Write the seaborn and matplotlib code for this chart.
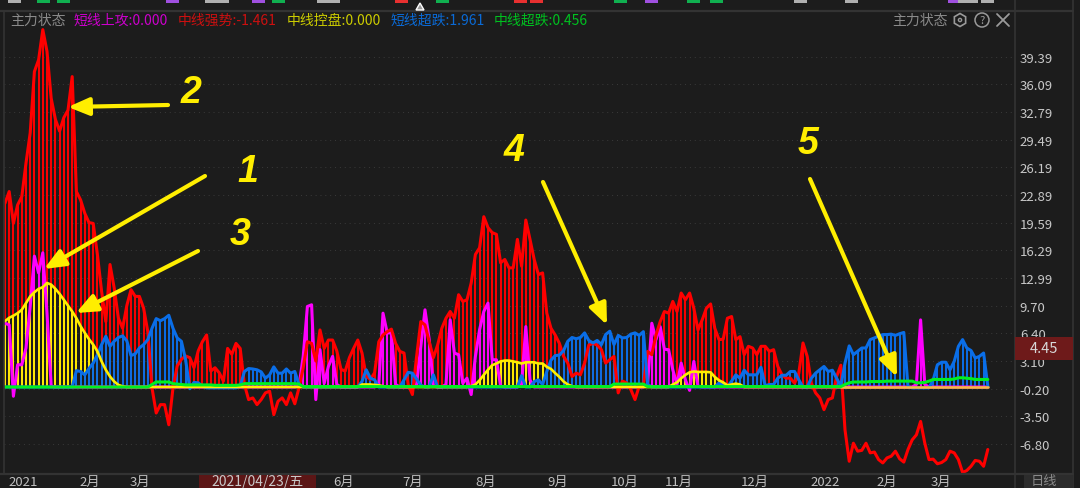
import numpy as np
import seaborn as sns
import matplotlib.pyplot as plt
from matplotlib.patches import Rectangle, Polygon, Circle, FancyArrowPatch
from matplotlib.lines import Line2D
from matplotlib.transforms import Affine2D

# one list per indicator, one value per trading day
short_attack = ([7.6, 7.4, -1.1, 2.65, 2.65, 4.65, 9.6, 15.6, 13.6, 16.0, 8.8, 0.1] + [0] * 58
                + [0.1, 3.65, 9.6, 9.8, -1.5, 4.45, 0.45, 2.45, 3.65, 0.3] + [0] * 9
                + [0.3, 8.8, 6.45, 6.45, 0.3] + [0] * 4
                + [0.3, 4.85, 9.2, 5.65, 0.1] + [0] * 2
                + [0.3, 8.0, 4.05, 3.85, 0.45, 1.05, -0.9, 3.65, 6.85, 9.0, 10.0, 3.25, 3.25, 0.1] + [0] * 4
                + [0.3, 7.2, 0.85] + [0] * 27
                + [0.3, 7.6, 5.65, 7.2, 4.5, 4.45, 2.05, 0.3, 2.85, 0.85, -0.4, 3.05, 0.1] + [0] * 51
                + [0.3, 8.0, 0.3] + [0] * 15)

mid_strong = [21.9, 23.3, 19.5, 21.7, 22.7, 26.7, 30.3, 37.6, 39.0, 42.6, 40.0, 34.4, 31.9, 30.5, 32.1, 33.0,
              37.0, 23.3, 22.3, 20.7, 19.6, 19.5, 15.8, 11.4, 7.8, 14.6, 11.8, 8.2, 7.0, 9.7, 11.6, 10.8,
              10.8, 9.4, 6.6, -0.1, -3.1, -2.1, -2.1, -4.5, -0.1, 2.5, 3.3, 3.7, 3.5, 2.3, 4.3, 5.4,
              6.2, 1.9, 2.3, 1.7, 0.7, 4.6, 3.9, 5.2, 4.6, 0.3, -1.5, -1.3, -2.1, -1.5, -0.7, -0.5,
              -3.3, -1.7, -1.3, -2.1, -0.7, -2.0, -0.1, 2.3, 5.4, 5.2, 3.1, 6.8, 4.6, 5.6, 5.6, 4.3,
              2.1, 1.9, 3.5, 4.6, 5.6,
              4.05, 1.3, 0.9, 1.7, 5.4, 6.2, 6.6, 6.9, 5.2, 4.25, 4.05, 0.3, -0.9, 3.65, 7.8, 7.4,
              5.4, 3.5, 5.0, 7.0, 8.2, 9.0, 8.2, 11.0, 10.2, 10.4,
              12.4, 15.8, 16.6, 20.3, 19.0, 18.4, 18.2, 14.8, 15.2, 14.2, 14.2, 17.6, 14.4, 19.9, 17.6, 15.2,
              13.4, 13.6, 8.8, 7.0, 6.2, 5.2, 3.65, 2.85, 1.25, 1.65, 1.45, 2.85, 5.0, 5.2, 5.0, 4.45,
              2.85, 3.25, 3.65, -0.7, 0.7, 0.5, -0.3, -1.5, 0.1, 0.1,
              4.25, 3.85, 6.2, 7.8, 9.0, 8.8, 10.2, 9.0, 11.2, 10.4, 11.2, 9.4, 6.8, 8.0, 9.4, 9.9,
              7.0, 5.65, 5.7, 8.2, 8.4, 5.65, 6.0, 3.85, 4.85, 4.65, 3.85, 4.85, 4.85, 4.25, 4.45, 2.45,
              1.45, 1.05, 1.05, 0.45, 1.65, 5.25, 3.65, 0.45, -0.7, -1.3,
              -2.7, -1.5, -1.3, 1.25, 2.6, -5.1, -8.85, -6.7, -7.65, -7.55, -6.7, -7.85, -7.75, -8.65, -9.05, -8.45,
              -8.25, -7.65, -8.55, -8.95, -7.45, -6.3, -5.7, -4.1, -6.7, -8.65, -8.6, -9.15, -9.0, -8.65, -7.65, -7.85,
              -8.65, -10.2, -9.95, -9.45, -8.75, -8.85, -9.45, -7.45]

mid_control = ([7.85, 8.25, 8.5, 8.8, 9.2, 10.0, 10.8, 11.3, 11.7, 11.9, 12.4, 12.2, 11.7, 11.1, 10.4, 9.7,
                9.0, 8.2, 7.25, 6.45, 5.7, 5.05, 4.25, 3.05, 2.05, 1.25, 0.65, 0.25, 0.08] + [0] * 56
               + [0.3, 0.3, 0.3, 0.25, 0.2, 0.1] + [0] * 20
               + [0.08, 0.3, 0.8, 1.45, 2.05, 2.6, 2.8, 3.05, 3.15, 3.15, 3.05, 2.95, 2.8, 2.95, 2.95, 2.95,
                  2.8, 2.8, 2.4, 2.15, 1.65, 1.2, 0.65, 0.3, 0.1] + [0] * 23
               + [0.3, 0.55, 1.05, 1.45, 1.75, 1.85, 1.8, 1.8, 1.8, 1.75, 1.2, 0.8, 0.55, 0.2, 0.3, 0.4, 0.3]
               + [0] * 59)

short_oversold = ([0] * 17
                  + [1.95, 1.85, 1.45, 2.2, 2.85, 3.85, 5.05, 6.05, 4.85, 5.45, 5.9, 6.1, 5.5, 3.75, 3.95, 4.65,
                     5.05, 5.65, 7.0, 8.15, 7.9, 8.15, 8.55, 7.0, 5.85, 5.45, 3.25, -0.2, 0.55, 0.5, 0.1]
                  + [-0.1] * 8
                  + [0.1, 1.85, 2.2, 2.15, 2.05, 1.8, 1.05, 1.45, 2.4, 1.65, 1.65, 2.15, 1.65, 1.85, 0.3] + [0] * 14
                  + [0.65, 2.05, 1.05, 0.85] + [0] * 6
                  + [0.85, 1.75, 1.65, 0.95, 0.2] + [0] * 2
                  + [1.45] + [0] * 20
                  + [1.35] + [0] * 2
                  + [0.65, 0.85, 0.3, 1.85, 3.2, 3.75, 3.8, 4.35, 5.45, 5.9, 5.75, 5.9, 6.45, 5.55, 5.25, 5.55,
                     5.05, 6.25, 6.65, 5.05, 6.15, 5.85, 5.9, 6.3, 6.45, 6.15, 6.6, 0.3] + [0] * 16
                  + [0.5, 0.15, 0, 0.7, 1.45, 1.05, 2.0, 1.45, 1.45, 1.45, 2.35, 0.15, 0.3, 0.3, 1.05, 1.4, 1.4,
                     1.85, 1.85, 0.85, 0, 0, 1.05, 1.65,
                     2.05, 2.45, 1.85, 2.0, 1.05, 0.1, 2.85, 4.9, 3.85, 4.25, 4.65, 4.65, 5.65, 5.85, 6.05, 6.25,
                     6.25, 6.3, 6.15, 6.35, 6.5, 0]
                  + [-0.1] * 5
                  + [0.85, 2.65, 2.95, 2.95, 2.05, 3.05, 4.85, 5.65, 4.65, 4.35, 3.45, 3.65, 4.05, 0.1])

mid_oversold = ([0] * 35 + [0.3, 0.6, 0.6, 0.6, 0.6, 0.4, 0.35, 0.3] + [0.25] * 7 + [0.2] * 6 + [0.25]
                + [0.4] * 13 + [0.35] + [0.05] * 74 + [0.35] * 8 + [0.05] * 47
                + [0.3, 0.5] + [0.6] * 4 + [0.65] * 4 + [0.7] * 7 + [0.5, 0.5, 0.55, 0.7] + [0.9] * 5
                + [0.95, 1.1, 1.1, 1.05, 1.0] + [0.9] * 4)

y_ticks = [39.39, 36.09, 32.79, 29.49, 26.19, 22.89, 19.59, 16.29, 12.99, 9.70, 6.40, 3.10, -0.20, -3.50, -6.80]
month_days = [4.3, 20.2, 32.1, 80.7, 97.1, 114.5, 131.7, 147.6, 160.5, 178.6, 195.2, 210, 222.9]
month_labels = ['2021', '2月', '3月', '6月', '7月', '8月', '9月', '10月', '11月', '12月', '2022', '2月', '3月']

legend_items = [('主力状态', 10, '#8a8a8a'), ('短线上攻:0.000', 73, '#cc00cc'), ('中线强势:-1.461', 178, '#cc1010'),
                ('中线控盘:0.000', 287, '#cccc00'), ('短线超跌:1.961', 390, '#0a6ad6'), ('中线超跌:0.456', 494, '#00c020')]

# top strip of cut off signal badges: centre, width, colour
badge_x = [14, 43, 63, 172, 217, 258, 278, 328, 401, 442, 520, 536, 620, 651, 693, 716, 800, 851, 954, 968, 987]
badge_w = [13, 13, 13, 13, 24, 13, 13, 23, 13, 13, 13, 13, 13, 13, 13, 13, 13, 13, 13, 20, 13]
badge_c = ['#b0b0b0', '#10b050', '#10b050', '#a050e0', '#b0b0b0', '#a050e0', '#10b050', '#b0b0b0', '#e83030', '#10b050',
           '#e83030', '#e83030', '#10b050', '#a050e0', '#10b050', '#10b050', '#b0b0b0', '#b0b0b0', '#a050e0', '#b0b0b0',
           '#b0b0b0']

BG = '#1c1c1c'
RED = '#ff0000'
MAGENTA = '#ff00ff'
YELLOW = '#ffee00'
BLUE = '#0a6ee8'
GREEN = '#00f020'
ARROW = '#ffee00'
W, H = 1080, 489

sns.set_theme(style='dark', rc={'axes.facecolor': BG, 'figure.facecolor': BG})
plt.rcParams['font.family'] = ['Noto Sans CJK SC', 'DejaVu Sans']

days = np.arange(len(mid_strong))
fig = plt.figure(figsize=(W / 100, H / 100), dpi=100)
# axes box in pixels: x 4..1015, y 13..474
ax = fig.add_axes([4 / W, 1 - 474 / H, (1015 - 4) / W, (474 - 13) / H])
ax.set_xlim((4 - 5) / 4.2, (1015 - 5) / 4.2)
ax.set_ylim(-10.25, 44.7)

# pixel coordinates with the origin at the top left, for the screenshot furniture
px = Affine2D().scale(1, -1).translate(0, H)


def bars(values, color, z):
    ax.vlines(days, 0, np.clip(np.array(values, dtype=float), 0, None), color=color, lw=1.4, zorder=z)


def line(x, values, color, z, width=2.2):
    sns.lineplot(x=x, y=values, color=color, linewidth=width, estimator=None, sort=False,
                 legend=False, ax=ax, zorder=z)


bars(mid_strong, RED, 2)
bars(short_attack, MAGENTA, 3)
bars(mid_control, YELLOW, 3.2)
bars(short_oversold, BLUE, 3.4)

line(days, short_attack, MAGENTA, 4)
line(days, mid_strong, RED, 4.5)
line(days, short_oversold, BLUE, 5)
line(days[:200], mid_control[:200], YELLOW, 6, 1.9)
line(days[199:], mid_control[199:], '#f5b942', 6, 1.9)
line(days, mid_oversold, GREEN, 7)

ax.set_yticks(y_ticks)
ax.set_yticklabels(['%.2f' % v for v in y_ticks])
ax.yaxis.tick_right()
ax.set_xticks(month_days)
ax.set_xticklabels(month_labels)
ax.tick_params(axis='y', length=0, pad=3.5, labelsize=9.5, labelcolor='#c8c8c8')
ax.tick_params(axis='x', length=0, pad=1.5, labelsize=9.5, labelcolor='#c0c0c0')
ax.set_xlabel('')
ax.set_ylabel('')
ax.grid(axis='y', color='#3a3a3a', lw=0.7, ls=(0, (1, 4)))
ax.grid(axis='x', visible=False)
ax.set_axisbelow(True)
for s in ax.spines.values():
    s.set_visible(False)


def box(x0, y0, x1, y1, color, z=5):
    fig.add_artist(Rectangle((x0, y0), x1 - x0, y1 - y0, transform=px, facecolor=color, edgecolor='none', zorder=z))


def rule(x0, y0, x1, y1, color='#333333', lw=1.2):
    fig.add_artist(Line2D([x0, x1], [y0, y1], transform=px, color=color, lw=lw, zorder=4))


def label(x, y, s, color, size=10, ha='left', **kw):
    fig.text(x, y, s, transform=px, color=color, fontsize=size, ha=ha, va='center', zorder=6, **kw)


# frame of the terminal window
rule(0, 12, 1073, 12, lw=1.6)
rule(0, 474.5, 1073, 474.5, lw=1.6)
rule(4, 12, 4, 474)
rule(1015, 0, 1015, 489)
rule(1073, 0, 1073, 489)

# signal badges and the little marker in the top strip
for cx, bw, c in zip(badge_x, badge_w, badge_c):
    box(cx - bw / 2, -1, cx + bw / 2, 3.8, c)
fig.add_artist(Polygon([(416, 11), (424, 11), (420, 4)], transform=px, facecolor='#9a9a9a', zorder=5))

# indicator legend line
for text, x, color in legend_items:
    label(x, 21, text, color)
label(892, 21, '主力状态', '#8a8a8a')
hex_t = np.deg2rad(np.arange(6) * 60 + 30)
fig.add_artist(Polygon(np.c_[960 + 6.5 * np.cos(hex_t), 21 + 6.5 * np.sin(hex_t)], transform=px, fill=False,
                       edgecolor='#9a9a9a', lw=1.2, zorder=6))
fig.add_artist(Circle((960, 21), 1.6, transform=px, fill=False, edgecolor='#9a9a9a', lw=1.0, zorder=6))
fig.add_artist(Circle((982, 21), 7, transform=px, fill=False, edgecolor='#9a9a9a', lw=1.1, zorder=6))
label(982, 21, '?', '#9a9a9a', size=8, ha='center')
rule(997, 15, 1009, 27, color='#9a9a9a', lw=1.3)
rule(997, 27, 1009, 15, color='#9a9a9a', lw=1.3)

# current value tag, date cursor and period tab
box(1015, 338, 1073, 361, '#6e1a1a')
label(1044, 349.5, '4.45', '#d8d8d8', size=10.5, ha='center')
box(199, 476, 316, 489, '#5c1616')
label(258, 482, '2021/04/23/五', '#c8c8c8', size=10, ha='center')
box(1024, 476, 1073, 489, '#2c2c2c')
label(1044, 481.5, '日线', '#8a8a8a', size=9.5, ha='center')

# hand drawn yellow call-outs
arrows = [((205, 177), (44, 270)), ((168, 106), (68, 108)), ((198, 252), (76, 314)),
          ((543, 183), (607, 326)), ((810, 180), (897, 378))]
for tail, head in arrows:
    fig.add_artist(FancyArrowPatch(tail, head, transform=px, arrowstyle='-|>,head_length=0.9,head_width=0.38',
                                   mutation_scale=14, color=ARROW, lw=3.0, shrinkA=0, shrinkB=0, zorder=8))
for num, x, y in [('1', 248, 172), ('2', 191, 93), ('3', 240, 235), ('4', 514, 151), ('5', 808, 144)]:
    fig.text(x, y, num, transform=px, color=ARROW, fontsize=27, fontweight='bold', fontstyle='italic',
             family='Liberation Sans', ha='center', va='center', zorder=8)

fig.savefig('out.png', dpi=100, facecolor=BG)
